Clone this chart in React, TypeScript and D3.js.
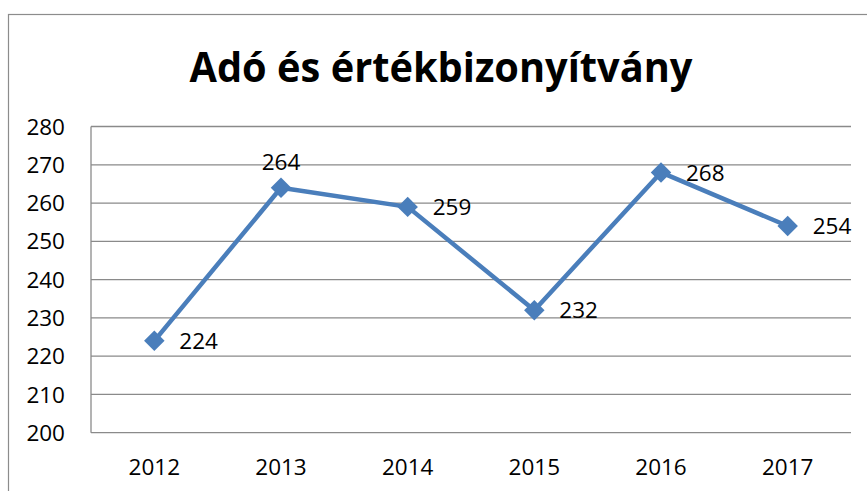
import React from "react";
import * as d3 from "d3";

const title = "Adó és értékbizonyítvány";
const years = ["2012", "2013", "2014", "2015", "2016", "2017"];
const values = [224, 264, 259, 232, 268, 254];
const labelPos = ["right", "above", "right", "right", "right", "right"];
const yTicks = [200, 210, 220, 230, 240, 250, 260, 270, 280];

const W = 867;
const H = 491;
const plot = { left: 91, right: 851, top: 126.5, bottom: 432.7 };
const blue = "#4A7EBB";
const grid = "#8a8a8a";
const font = "'Open Sans', sans-serif";

export default function App() {
  const x = d3.scaleBand().domain(years).range([plot.left, plot.right]);
  const y = d3.scaleLinear().domain([200, 280]).range([plot.bottom, plot.top]);
  const cx = (d: string) => (x(d) as number) + x.bandwidth() / 2;
  const line = d3
    .line<number>()
    .x((_, i) => cx(years[i]))
    .y((v) => y(v));
  const diamond = d3.symbol().type(d3.symbolSquare).size(210)();

  return (
    <svg
      width={W}
      height={H}
      style={{ position: "absolute", left: 0, top: 0, background: "#fff" }}
    >
      <rect x={8.5} y={14.5} width={900} height={600} fill="#fff" stroke="#8c8c8c" strokeWidth={1.2} />
      <text
        x={441}
        y={82}
        textAnchor="middle"
        fontFamily={font}
        fontWeight="bold"
        fontSize={41}
        textLength={503}
        lengthAdjust="spacingAndGlyphs"
        fill="#000"
      >
        {title}
      </text>
      {yTicks.map((t) => (
        <g key={t}>
          <line x1={plot.left} x2={plot.right} y1={y(t)} y2={y(t)} stroke={grid} strokeWidth={1.3} />
          <text
            x={65}
            y={y(t)}
            dy="0.36em"
            textAnchor="end"
            fontFamily={font}
            fontSize={22.5}
            fill="#000"
          >
            {t}
          </text>
        </g>
      ))}
      <line x1={plot.left} x2={plot.left} y1={plot.top} y2={plot.bottom} stroke={grid} strokeWidth={1.3} />
      {years.map((yr) => (
        <text
          key={yr}
          x={cx(yr)}
          y={475}
          textAnchor="middle"
          fontFamily={font}
          fontSize={22.5}
          fill="#000"
        >
          {yr}
        </text>
      ))}
      <path d={line(values) || ""} fill="none" stroke={blue} strokeWidth={4.5} strokeLinejoin="round" />
      {values.map((v, i) => (
        <path
          key={i}
          d={diamond || ""}
          transform={`translate(${cx(years[i])},${y(v)}) rotate(45)`}
          fill={blue}
        />
      ))}
      {values.map((v, i) =>
        labelPos[i] === "above" ? (
          <text
            key={"l" + i}
            x={cx(years[i])}
            y={y(v) - 18}
            textAnchor="middle"
            fontFamily={font}
            fontSize={22.5}
            fill="#000"
          >
            {v}
          </text>
        ) : (
          <text
            key={"l" + i}
            x={cx(years[i]) + 25}
            y={y(v)}
            dy="0.36em"
            textAnchor="start"
            fontFamily={font}
            fontSize={22.5}
            fill="#000"
          >
            {v}
          </text>
        )
      )}
    </svg>
  );
}
